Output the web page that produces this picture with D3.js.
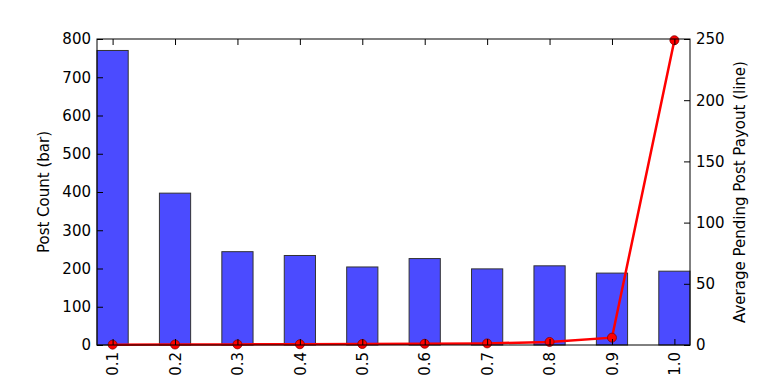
<!DOCTYPE html>
<html>
<head>
<meta charset="utf-8">
<script src="https://cdn.jsdelivr.net/npm/d3@7"></script>
<style>
body { margin: 0; background: #fff; }
svg text { font-family: "DejaVu Sans", sans-serif; font-size: 15px; fill: #000; }
</style>
</head>
<body>
<svg id="chart"></svg>
<script>
const categories = ["0.1", "0.2", "0.3", "0.4", "0.5", "0.6", "0.7", "0.8", "0.9", "1.0"];
const postCounts = [770, 397, 244, 234, 204, 226, 199, 207, 188, 193];
const avgPayout = [0.3, 0.4, 0.5, 0.6, 0.8, 1.0, 1.3, 2.5, 6, 249];
const leftTicks = [0, 100, 200, 300, 400, 500, 600, 700, 800];
const rightTicks = [0, 50, 100, 150, 200, 250];

const W = 768, H = 384;
const margin = { top: 39, right: 78, bottom: 39, left: 97 };
const width = W - margin.left - margin.right;
const height = H - margin.top - margin.bottom;

const svg = d3.select("#chart").attr("width", W).attr("height", H)
	.append("g")
	.attr("transform", `translate(${margin.left}, ${margin.top})`);

// x: categorical, matplotlib-style limits -0.25 .. n-0.75
const x = d3.scaleLinear().domain([-0.25, categories.length - 0.75]).range([0, width]);
const step = x(1) - x(0);

const y = d3.scaleLinear().domain([0, 800]).range([height, 0]);
const y2 = d3.scaleLinear().domain([0, 250]).range([height, 0]);

// Bars
svg.selectAll("rect.bar")
	.data(postCounts)
	.enter()
	.append("rect")
	.attr("class", "bar")
	.attr("x", (d, i) => x(i) - step * 0.25)
	.attr("y", d => y(d))
	.attr("width", step * 0.5)
	.attr("height", d => height - y(d))
	.attr("fill", "#4b4bff")
	.attr("stroke", "#333")
	.attr("stroke-width", 1);

// Line
const line = d3.line()
	.x((d, i) => x(i))
	.y(d => y2(d));
svg.append("path")
	.datum(avgPayout)
	.attr("d", line)
	.attr("fill", "none")
	.attr("stroke", "red")
	.attr("stroke-width", 2.5);
svg.selectAll("circle.pt")
	.data(avgPayout)
	.enter()
	.append("circle")
	.attr("class", "pt")
	.attr("cx", (d, i) => x(i))
	.attr("cy", d => y2(d))
	.attr("r", 4.5)
	.attr("fill", "red")
	.attr("stroke", "#800")
	.attr("stroke-width", 0.8);

// Frame
svg.append("rect")
	.attr("width", width).attr("height", height)
	.attr("fill", "none").attr("stroke", "#000").attr("stroke-width", 1);

const tickLen = 6;
const idx = d3.range(categories.length);

// Bottom axis
const xAxis = svg.append("g")
	.attr("transform", `translate(0,${height})`)
	.call(d3.axisBottom(x).tickValues(idx).tickFormat(i => categories[i]).tickSize(-tickLen));
xAxis.select(".domain").remove();
xAxis.selectAll("text")
	.attr("transform", "rotate(-90)")
	.attr("x", -7).attr("y", 0).attr("dy", "0.35em")
	.style("text-anchor", "end");

// Top ticks
const xTop = svg.append("g")
	.call(d3.axisTop(x).tickValues(idx).tickFormat("").tickSize(-tickLen));
xTop.select(".domain").remove();

// Left axis
const yAxis = svg.append("g")
	.call(d3.axisLeft(y).tickValues(leftTicks).tickSize(-tickLen).tickPadding(6));
yAxis.select(".domain").remove();

// Right axis
const y2Axis = svg.append("g")
	.attr("transform", `translate(${width},0)`)
	.call(d3.axisRight(y2).tickValues(rightTicks).tickSize(-tickLen).tickPadding(6));
y2Axis.select(".domain").remove();

svg.selectAll(".tick line").attr("stroke", "#000");
svg.selectAll(".tick text").style("font-size", "15px").style("font-family", "DejaVu Sans, sans-serif");

// Axis labels
svg.append("text")
	.attr("transform", `translate(${-53},${height / 2}) rotate(-90)`)
	.attr("text-anchor", "middle")
	.attr("dy", "0.35em")
	.text("Post Count (bar)");

svg.append("text")
	.attr("transform", `translate(${width + 50},${height / 2}) rotate(-90)`)
	.attr("text-anchor", "middle")
	.attr("dy", "0.35em")
	.text("Average Pending Post Payout (line)");
</script>
</body>
</html>
